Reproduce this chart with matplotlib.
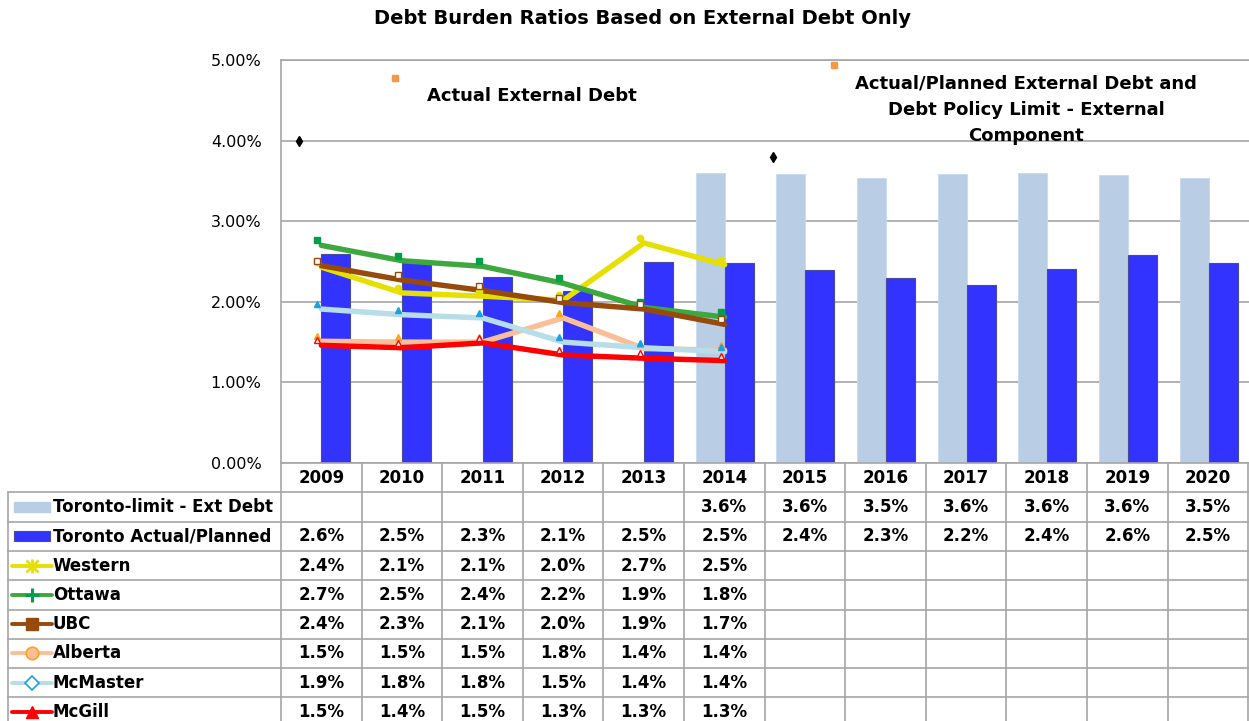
import matplotlib
matplotlib.use("Agg")
import matplotlib.pyplot as plt
import matplotlib.transforms as mtransforms
from matplotlib.lines import Line2D
from matplotlib.patches import Rectangle

years = [2009, 2010, 2011, 2012, 2013, 2014, 2015, 2016, 2017, 2018, 2019, 2020]
toronto_limit = [None, None, None, None, None, 3.60, 3.59, 3.54, 3.59, 3.60, 3.57, 3.54]
toronto_actual = [2.59, 2.48, 2.31, 2.13, 2.49, 2.48, 2.39, 2.30, 2.21, 2.41, 2.58, 2.48]
western = [2.43, 2.11, 2.07, 2.02, 2.73, 2.46]
ottawa = [2.70, 2.51, 2.44, 2.23, 1.93, 1.81]
ubc = [2.449, 2.27, 2.14, 1.99, 1.91, 1.72]
alberta = [1.51, 1.50, 1.50, 1.80, 1.42, 1.40]
mcmaster = [1.91, 1.84, 1.80, 1.50, 1.43, 1.38]
mcgill = [1.46, 1.43, 1.49, 1.34, 1.30, 1.27]

# stray marker glyphs left over in the original chart (x index, value)
orange_marks = [(0.91, 4.78), (6.35, 4.94)]
black_marks = [(-0.28, 4.00), (5.60, 3.80)]

W, H = 1249, 721
LEFT, TOP0, ZERO = 281, 60, 463
COLW = 80.6
ROWH = 29.3
GRID = "#a6a6a6"

# line series: name, values, colour, small-marker colour, marker, face, edge
series = [
    ("Western", western, "#e6e000", "#e6e000", "o", "#e6e000", "none"),
    ("Ottawa", ottawa, "#3ea73e", "#00a04a", "s", "#00a04a", "none"),
    ("UBC", ubc, "#964a0c", "#964a0c", "s", "white", "#964a0c"),
    ("Alberta", alberta, "#fbbf98", "#f5a623", "^", "#f5a623", "none"),
    ("McMaster", mcmaster, "#b7dde8", "#1ba1e2", "^", "#1ba1e2", "none"),
    ("McGill", mcgill, "#ff0000", "#ff0000", "^", "white", "#ff0000"),
]

plt.rcParams["font.family"] = "DejaVu Sans"
fig = plt.figure(figsize=(W / 100, H / 100), dpi=100)
ax = fig.add_axes([LEFT / W, 1 - ZERO / H, (W - LEFT) / W, (ZERO - TOP0) / H])

x = list(range(len(years)))
bw = 0.36
lim_x = [i - bw / 2 for i, v in zip(x, toronto_limit) if v is not None]
lim_v = [v for v in toronto_limit if v is not None]
ax.bar(lim_x, lim_v, width=bw, color="#b9cde5", edgecolor="#c9d9ec", linewidth=0.6, zorder=2)
ax.bar([i + bw / 2 for i in x], toronto_actual, width=bw, color="#3333ff",
       edgecolor="#4a4a9a", linewidth=0.8, zorder=2)

mk_off = mtransforms.offset_copy(ax.transData, fig=fig, x=-4, y=5, units="dots")
for name, vals, col, mcol, m, mfc, mec in series:
    xs = x[:len(vals)]
    ax.plot(xs, vals, color=col, lw=3.9, solid_joinstyle="round",
            solid_capstyle="round", zorder=3)
    ax.plot(xs, vals, ls="none", marker=m, ms=4.5, mfc=mfc if mfc != "none" else mcol,
            mec=mec if mec != "none" else mcol, mew=1, transform=mk_off, zorder=4)

for px, py in orange_marks:
    ax.plot(px, py, marker="s", ms=5, color="#f79646", ls="none", zorder=4)
for px, py in black_marks:
    ax.plot(px, py, marker="d", ms=5, color="black", ls="none", zorder=4)

ax.set_xlim(-0.5, len(years) - 0.5)
ax.set_ylim(0, 5)
ax.set_yticks(range(6))
ax.set_yticklabels([f"{v:.2f}%" for v in range(6)], fontsize=11.5)
ax.tick_params(axis="y", length=0, pad=14)
ax.set_xticks([])
ax.grid(axis="y", color=GRID, lw=1.2, zorder=0)
for s in ["left", "top", "bottom"]:
    ax.spines[s].set_color(GRID)
    ax.spines[s].set_linewidth(1.2)
ax.spines["right"].set_visible(False)

ax.text(2.61, 4.55, "Actual External Debt", ha="center", va="center",
        fontsize=13, fontweight="bold", zorder=5)
ax.text(8.74, 4.38, "Actual/Planned External Debt and\nDebt Policy Limit - External\nComponent",
        ha="center", va="center", fontsize=13, fontweight="bold", linespacing=1.6, zorder=5)

fig.text(643 / W, 1 - 18 / H, "Debt Burden Ratios Based on External Debt Only",
         ha="center", va="center", fontsize=14, fontweight="bold")

# data table underneath the plot, in pixel coordinates
tb = fig.add_axes([0, 0, 1, 1], facecolor="none")
tb.set_xlim(0, W)
tb.set_ylim(H, 0)
tb.axis("off")

rows = [("Toronto-limit - Ext Debt", toronto_limit),
        ("Toronto Actual/Planned", toronto_actual)] + [(s[0], s[1]) for s in series]
n_rows = len(rows)
bottom = ZERO + ROWH * (n_rows + 1)

# header row
for i, yr in enumerate(years):
    tb.text(LEFT + COLW * (i + 0.5), ZERO + ROWH / 2, str(yr), ha="center",
            va="center", fontsize=12, fontweight="bold")
for i in range(len(years) + 1):
    tb.add_line(Line2D([LEFT + COLW * i] * 2, [ZERO, bottom], color=GRID, lw=1.2))
tb.add_line(Line2D([8, 8], [ZERO + ROWH, bottom], color=GRID, lw=1.2))
for r in range(1, n_rows + 2):
    yline = ZERO + ROWH * r
    tb.add_line(Line2D([8, W], [yline, yline], color=GRID, lw=1.2))

for r, (label, vals) in enumerate(rows):
    yc = ZERO + ROWH * (r + 1.5)
    tb.text(53, yc, label, ha="left", va="center", fontsize=12, fontweight="bold")
    for i, v in enumerate(vals):
        if v is not None:
            tb.text(LEFT + COLW * (i + 0.5), yc, f"{v:.1f}%", ha="center",
                    va="center", fontsize=12, fontweight="bold")

# legend keys in the label column
yc = ZERO + ROWH * 1.5
tb.add_patch(Rectangle((14, yc - 5), 36, 10, color="#b9cde5"))
yc = ZERO + ROWH * 2.5
tb.add_patch(Rectangle((14, yc - 5), 36, 10, facecolor="#3333ff", edgecolor="#4a4a9a", lw=0.8))
key_markers = {
    "Western": [dict(marker="x", ms=8, mec="#e6e000", mew=2), dict(marker="+", ms=10, mec="#e6e000", mew=2)],
    "Ottawa": [dict(marker="+", ms=10, mec="#00a04a", mew=2.2)],
    "UBC": [dict(marker="s", ms=9, mfc="#964a0c", mec="#964a0c")],
    "Alberta": [dict(marker="o", ms=9, mfc="#fbbf98", mec="#f5a623", mew=1.2)],
    "McMaster": [dict(marker="D", ms=7, mfc="white", mec="#1ba1e2", mew=1.2)],
    "McGill": [dict(marker="^", ms=9, mfc="#ff0000", mec="#ff0000")],
}
for r, (name, vals, col, *_rest) in enumerate(series):
    yc = ZERO + ROWH * (r + 3.5)
    tb.add_line(Line2D([12, 52], [yc, yc], color=col, lw=2.8, solid_capstyle="round"))
    for kw in key_markers[name]:
        tb.add_line(Line2D([32], [yc], ls="none", **kw))

fig.savefig("out.png", dpi=100)
